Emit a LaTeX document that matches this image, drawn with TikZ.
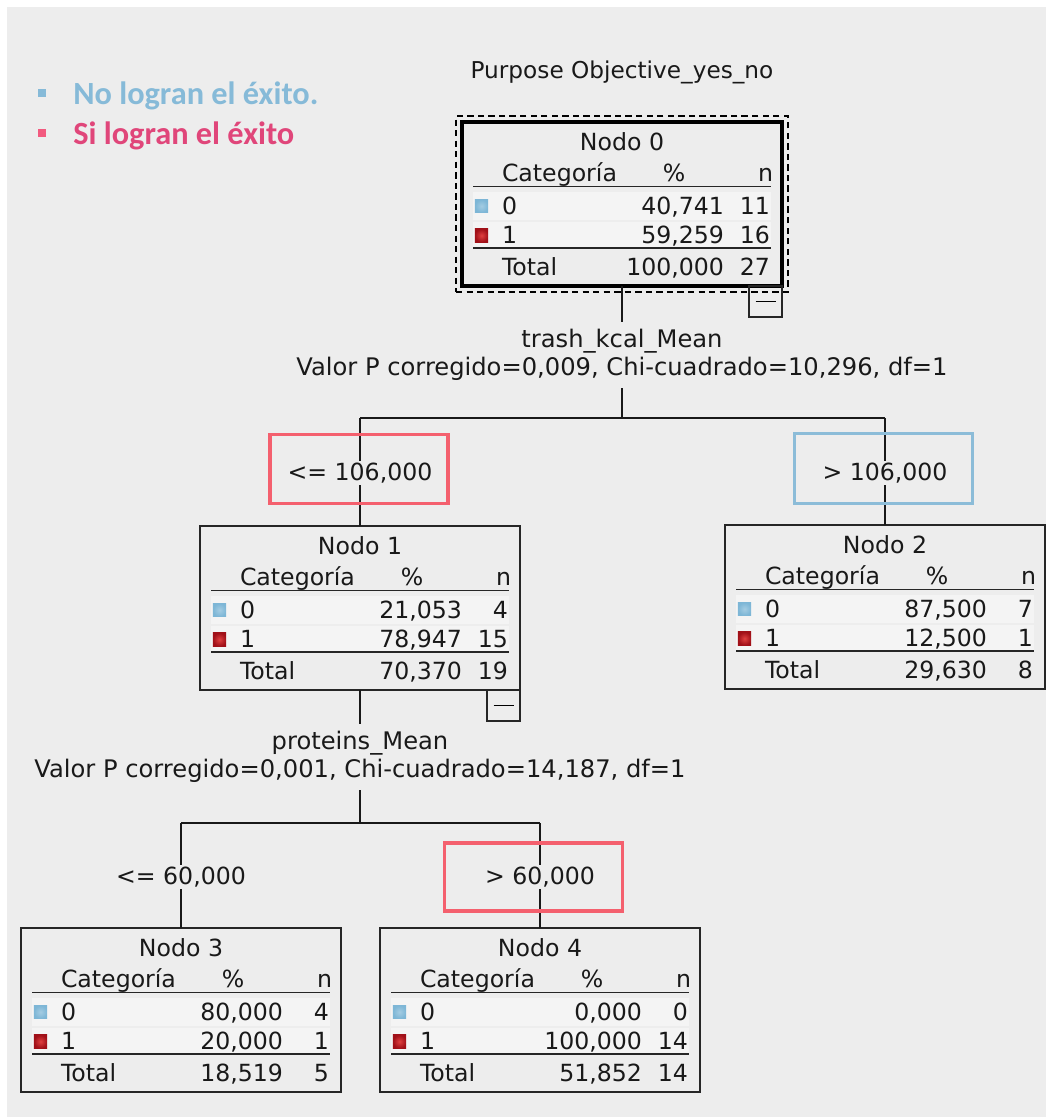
\documentclass[tikz,border=0pt]{standalone}
\usepackage{fontspec}
\setmainfont{DejaVu Sans}
\newfontfamily\legendfont{Carlito}
\usetikzlibrary{calc,fit}

\definecolor{bggray}{HTML}{EDEDED}
\definecolor{legblue}{HTML}{86BAD8}
\definecolor{legpink}{HTML}{E0467A}
\definecolor{legpinksq}{HTML}{F25A7F}
\definecolor{hlred}{HTML}{F4606E}
\definecolor{hlblue}{HTML}{8CBCD8}
\definecolor{catblue}{HTML}{7DB6D6}
\definecolor{catred}{HTML}{A01018}
\definecolor{catredhi}{HTML}{E04040}

\tikzset{
  treebox/.style={draw=black!85, line width=1.4pt, minimum width=8cm, minimum height=4.1cm,
    inner sep=0pt, outer sep=0pt, anchor=north west},
  rootframe/.style={draw=black, line width=2.8pt},
  focusbox/.style={draw=black, line width=1.3pt, dash pattern=on 4.5pt off 3pt, inner sep=0.15cm},
  collapsebox/.style={draw=black!85, line width=1.3pt, minimum width=0.82cm, minimum height=0.78cm,
    inner sep=0pt, outer sep=0pt, anchor=north east},
  rowband/.style={fill=white!40!bggray},
  rule/.style={draw=black!85, line width=1.1pt},
  cell/.style={inner sep=0pt, outer sep=0pt, text=black!90},
  sqblue/.style={minimum size=0.33cm, inner sep=0pt, fill=catblue, inner color=catblue!70!white, outer color=catblue},
  sqred/.style={minimum size=0.33cm, inner sep=0pt, inner color=catredhi, outer color=catred},
  conn/.style={draw=black!90, line width=1.3pt},
  splitlbl/.style={fill=bggray, align=center, inner xsep=2pt, inner ysep=5pt, text=black!90,
    font=\fontsize{17.2}{20}\selectfont},
  cutlbl/.style={fill=bggray, inner sep=1.5pt, text=black!90},
  hlbox/.style={draw=#1, line width=2.3pt, inner sep=0pt, fill=none},
  legsq/.style={minimum size=0.21cm, inner sep=0pt},
  legtxt/.style={inner sep=0pt, font=\legendfont\bfseries\fontsize{23}{27}\selectfont},
}

% one tree node: name, (left,top), title, pct0, n0, pct1, n1, pct total, n total
\newcommand{\spssnode}[9]{%
  \node[treebox] (#1) at #2 {};
  \fill[rowband] ($(#1.north west)+(11,70)$) rectangle ($(#1.north west)+(309,98)$);
  \fill[rowband] ($(#1.north west)+(11,100)$) rectangle ($(#1.north west)+(309,125)$);
  \node[cell, anchor=base] (#1-t) at ($(#1.north west)+(160,28)$) {#3};
  \node[cell, anchor=base west] (#1-h1) at ($(#1.north west)+(40,59)$) {Categoría};
  \node[cell, anchor=base] (#1-h2) at ($(#1.north west)+(212,59)$) {\%};
  \node[cell, anchor=base east] (#1-h3) at ($(#1.north west)+(311,59)$) {n};
  \draw[rule] ($(#1.north west)+(11,64.5)$) -- ($(#1.north west)+(309,64.5)$);
  \node[sqblue] (#1-k0) at ($(#1.north west)+(19.5,84)$) {};
  \node[cell, anchor=base west] (#1-c0) at ($(#1.north west)+(40,92)$) {0};
  \node[cell, anchor=base east] (#1-p0) at ($(#1.north west)+(262,92)$) {#4};
  \node[cell, anchor=base east] (#1-n0) at ($(#1.north west)+(308,92)$) {#5};
  \node[sqred] (#1-k1) at ($(#1.north west)+(19.5,113.5)$) {};
  \node[cell, anchor=base west] (#1-c1) at ($(#1.north west)+(40,121.5)$) {1};
  \node[cell, anchor=base east] (#1-p1) at ($(#1.north west)+(262,121.5)$) {#6};
  \node[cell, anchor=base east] (#1-n1) at ($(#1.north west)+(308,121.5)$) {#7};
  \draw[rule] ($(#1.north west)+(11,126)$) -- ($(#1.north west)+(309,126)$);
  \node[cell, anchor=base west] (#1-tt) at ($(#1.north west)+(40,153)$) {Total};
  \node[cell, anchor=base east] (#1-pt) at ($(#1.north west)+(262,153)$) {#8};
  \node[cell, anchor=base east] (#1-nt) at ($(#1.north west)+(308,153)$) {#9};
}

\begin{document}
\begin{tikzpicture}[x=0.025cm, y=-0.025cm, font=\fontsize{16.8}{20}\selectfont]
\useasboundingbox (0,0) rectangle (1046,1119);
\fill[white] (0,0) rectangle (1046,1119);
\fill[bggray] (7,7) rectangle (1046,1117);

% legend
\node[legsq, fill=legblue] (ksq0) at (42,93) {};
\node[legtxt, text=legblue, anchor=base west] (ktx0) at (73,104) {No logran el éxito.};
\node[legsq, fill=legpinksq] (ksq1) at (42,133) {};
\node[legtxt, text=legpink, anchor=base west] (ktx1) at (73,144) {Si logran el éxito};

% dependent variable
\node[cell, font=\fontsize{16.5}{19}\selectfont] (ttl) at (622,72) {Purpose Objective\_yes\_no};

% tree nodes
\spssnode{n0}{(462,122)}{Nodo 0}{40,741}{11}{59,259}{16}{100,000}{27}
\draw[rootframe] (n0.north west) rectangle (n0.south east);
\node[focusbox, fit=(n0)] (n0f) {};
\node[collapsebox] (c0) at (n0.south east) {};
\draw[line width=0.8pt] ($(c0.center)+(-10,0)$) -- ($(c0.center)+(10,0)$);

\spssnode{n1}{(200,526)}{Nodo 1}{21,053}{4}{78,947}{15}{70,370}{19}
\node[collapsebox] (c1) at (n1.south east) {};
\draw[line width=0.8pt] ($(c1.center)+(-10,0)$) -- ($(c1.center)+(10,0)$);

\spssnode{n2}{(725,525)}{Nodo 2}{87,500}{7}{12,500}{1}{29,630}{8}
\spssnode{n3}{(21,928)}{Nodo 3}{80,000}{4}{20,000}{1}{18,519}{5}
\spssnode{n4}{(380,928)}{Nodo 4}{0,000}{0}{100,000}{14}{51,852}{14}

% connectors
\coordinate (j0) at (622,418);
\coordinate (j0l) at (360,418);
\coordinate (j0r) at (885,418);
\draw[conn] (n0.south) -- (j0);
\draw[conn] (j0l) -- (j0r);
\draw[conn] (j0l) -- (n1.north);
\draw[conn] (j0r) -- (n2.north);

\coordinate (j1) at (360,823);
\coordinate (j1l) at (181,823);
\coordinate (j1r) at (540,823);
\draw[conn] (n1.south) -- (j1);
\draw[conn] (j1l) -- (j1r);
\draw[conn] (j1l) -- (n3.north);
\draw[conn] (j1r) -- (n4.north);

% split descriptions
\node[splitlbl] (s0) at (622,355) {trash\_kcal\_Mean\\Valor P corregido=0,009, Chi-cuadrado=10,296, df=1};
\node[splitlbl] (s1) at (360,757) {proteins\_Mean\\Valor P corregido=0,001, Chi-cuadrado=14,187, df=1};

% branch conditions
\node[cutlbl] (b1) at (360,473) {<= 106,000};
\node[cutlbl] (b2) at (885,473) {> 106,000};
\node[cutlbl] (b3) at (181,877) {<= 60,000};
\node[cutlbl] (b4) at (540,877) {> 60,000};

% highlighted conditions
\node[hlbox=hlred, minimum width=4.45cm, minimum height=1.72cm] (h1) at (359,469) {};
\node[hlbox=hlblue, minimum width=4.45cm, minimum height=1.75cm] (h2) at (883.5,468.5) {};
\node[hlbox=hlred, minimum width=4.45cm, minimum height=1.7cm] (h4) at (533.5,877) {};
\end{tikzpicture}
\end{document}
